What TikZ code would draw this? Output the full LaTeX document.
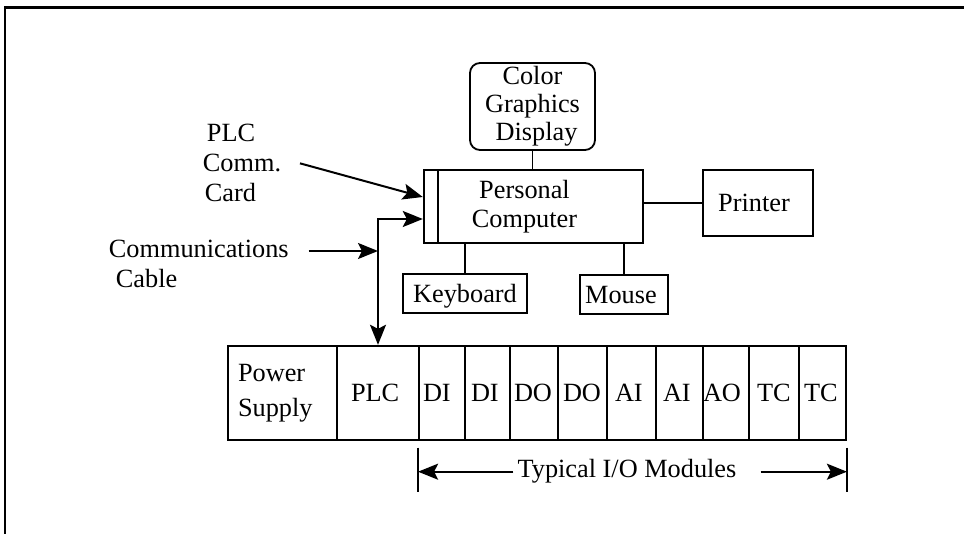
\documentclass[tikz,border=0pt]{standalone}
\usepackage{fontspec}
\setmainfont{Liberation Serif}
\usetikzlibrary{arrows.meta}

\begin{document}
\begin{tikzpicture}[
    x=1pt, y=-1pt, line width=1.8pt,
    every node/.style={font=\fontsize{26.3}{30}\selectfont},
    boxNode/.style={rectangle, draw, line width=1.8pt, inner sep=0pt, text depth=0pt},
    pcNode/.style={rectangle, draw, line width=2.4pt, minimum height=73pt, inner sep=0pt},
    rackCell/.style={rectangle, draw, line width=1.8pt, minimum height=94.3pt, inner sep=0pt, align=left, font=\fontsize{26.3}{35}\selectfont},
    labelText/.style={anchor=north west, inner sep=0pt, align=left},
    tipEdge/.style={-{Stealth[length=20pt, width=16pt, inset=4pt]}, line width=2pt},
    cableEdge/.style={{Stealth[length=20pt, width=16pt, inset=4pt]}-{Stealth[length=20pt, width=16pt, inset=4pt]}, line width=2pt}
]
    \useasboundingbox (0,0) rectangle (964,534);
    \draw[line width=2.6pt] (5,534) -- (5,7.5) -- (964,7.5);

    \node[boxNode, rounded corners=10pt, minimum width=125pt, minimum height=87pt, align=center, text depth=, font=\fontsize{26.3}{28}\selectfont] (disp) at (532.5,106.5) {Color\\Graphics\\\hspace*{8pt}Display};
    \node[pcNode, minimum width=219pt] (pc) at (533.5,206.5) {};
    \node[align=center, font=\fontsize{26.3}{29}\selectfont] (pctxt) at ([xshift=-9pt]pc.center) {Personal\\Computer};
    \node[pcNode, minimum width=14pt] (card) at (431,206.5) {};
    \node[boxNode, minimum width=110pt, minimum height=66pt] (prn) at (758,203) {\hspace*{-8pt}Printer};
    \node[boxNode, minimum width=124pt, minimum height=39pt] (kbd) at (465,293.5) {Keyboard};
    \node[boxNode, minimum width=88pt, minimum height=39pt] (mouse) at (624,294.5) {\hspace*{-6pt}Mouse};

    \draw (disp.south) -- (disp.south |- pc.north);
    \draw (kbd.north) -- (kbd.north |- pc.south);
    \draw (mouse.north) -- (mouse.north |- pc.south);
    \draw (prn.west) -- (prn.west -| pc.east);

    \foreach \nm/\xa/\xb/\pd/\txt in {ps/228/337/10/{Power\\Supply}, plc/337/419/14/PLC, m1/419/465/4/DI, m2/465/510/6/DI, m3/510/558/4/DO, m4/558/607/5/DO, m5/607/656/8/AI, m6/656/703/7/AI, m7/703/749/0/AO, m8/749/799/8/TC, m9/799/846/5/TC}{
        \pgfmathsetmacro{\cw}{\xb-\xa}
        \pgfmathsetmacro{\tw}{\xb-\xa-2*\pd}
        \pgfmathsetmacro{\cx}{(\xa+\xb)/2}
        \node[rackCell, minimum width=\cw pt, text width=\tw pt] (\nm) at (\cx,392.85) {\txt};
    }

    \node[labelText] (cardlbl) at (202,123.6) {\hspace*{4pt}PLC\\Comm.\\\hspace*{2pt}Card};
    \node[labelText] (commlbl) at (108,239.6) {Communications\\\hspace*{7pt}Cable};
    \coordinate (commtip) at ([xshift=19pt, yshift=-11.4pt]commlbl.north east);

    \draw[tipEdge] ([xshift=18pt]cardlbl.east) -- ([yshift=9.5pt]card.west);
    \draw[cableEdge] (plc.north) |- ([yshift=-12.5pt]card.west);
    \draw[tipEdge] (commtip) -- (commtip -| plc.north);

    \node (iotxt) at (627,471.7) {Typical I/O Modules};
    \draw ([yshift=-6.7pt]m1.south west) -- ++(0,44);
    \draw ([yshift=-6.7pt]m9.south east) -- ++(0,44);
    \draw[tipEdge] (iotxt.west) -- (iotxt.west -| m1.south west);
    \draw[tipEdge, shorten <=20pt] (iotxt.east) -- (iotxt.east -| m9.south east);
\end{tikzpicture}
\end{document}
